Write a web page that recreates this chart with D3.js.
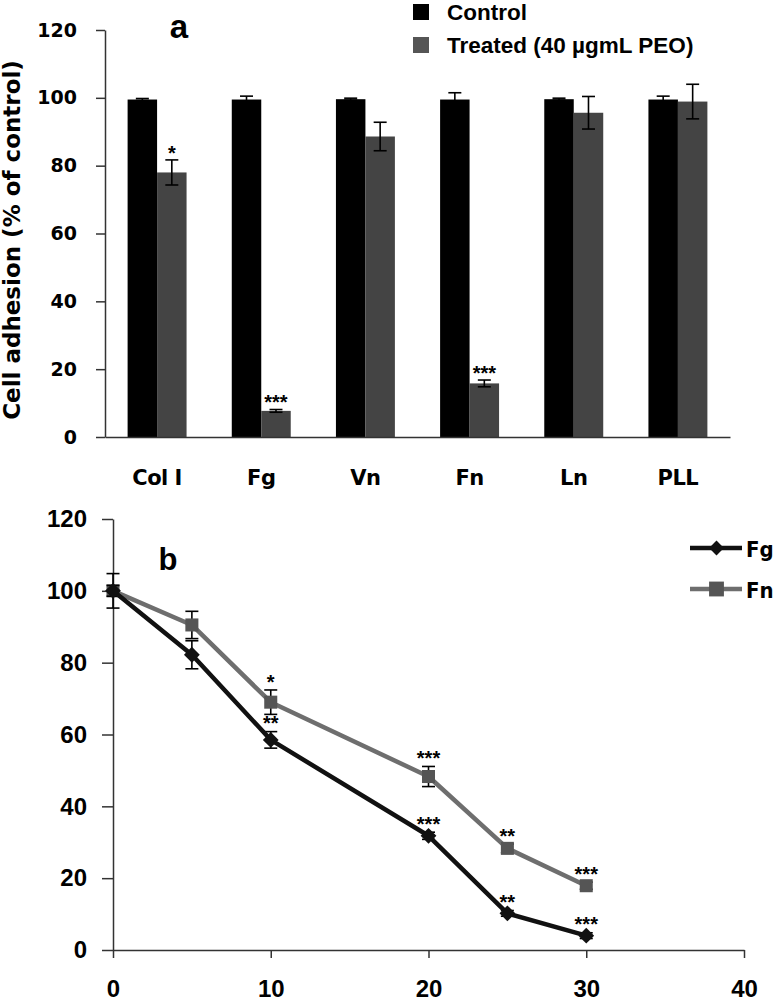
<!DOCTYPE html>
<html>
<head>
<meta charset="utf-8">
<script src="https://cdn.jsdelivr.net/npm/d3@7"></script>
<style>
  html, body { margin: 0; padding: 0; background: #fff; }
  svg { display: block; }
</style>
</head>
<body>
<svg id="chart" width="777" height="1001"></svg>
<script>
// ---------- Panel a data ----------
const categories = ["Col I", "Fg", "Vn", "Fn", "Ln", "PLL"];
const seriesNames = ["Control", "Treated (40 µgmL PEO)"];
const controlValues = [99.5, 99.5, 99.6, 99.5, 99.6, 99.5];
const controlErrors = [0.3, 1.0, 0.3, 2.0, 0.3, 1.0];
const treatedValues = [78.0, 7.7, 88.6, 15.8, 95.6, 98.9];
const treatedErrors = [3.7, 0.4, 4.2, 1.0, 4.8, 5.1];
const treatedStars = ["*", "***", "", "***", "", ""];
const yTicksA = [0, 20, 40, 60, 80, 100, 120];

// ---------- Panel b data ----------
const timePoints = [0, 5, 10, 20, 25, 30];
const fgValues = [100, 82.2, 58.5, 31.8, 10.2, 4.0];
const fgErrors = [1.5, 3.9, 2.3, 1.0, 0.8, 0.8];
const fgStars = ["", "", "**", "***", "**", "***"];
const fnValues = [100, 90.5, 69.0, 48.3, 28.3, 17.9];
const fnErrors = [4.8, 3.8, 3.4, 2.8, 1.2, 1.0];
const fnStars = ["", "", "*", "***", "**", "***"];
const xTicksB = [0, 10, 20, 30, 40];
const yTicksB = [0, 20, 40, 60, 80, 100, 120];

const svg = d3.select("#chart");
const AXIS = "#333";
const GRAY_BAR = "#444";
const FN_LINE = "#6e6e6e";
const FN_MARK = "#555";
const starFont = "'Liberation Sans', Arial, sans-serif";
const dejavu = "'DejaVu Sans', Verdana, sans-serif";
const dejavuCond = "'DejaVu Sans Condensed', 'DejaVu Sans', Verdana, sans-serif";
const arial = "'Liberation Sans', Arial, sans-serif";

// =========== PANEL A ===========
const ya = d3.scaleLinear().domain([0, 120]).range([437, 30]);
const xa = d3.scaleBand().domain(categories).range([105, 730])
  .paddingInner(0.434).paddingOuter(0.217);
const xs = d3.scaleBand().domain([0, 1]).range([0, xa.bandwidth()]);

const gA = svg.append("g");

const rows = categories.map((c, i) => ({
  cat: c,
  vals: [
    { s: 0, v: controlValues[i], e: controlErrors[i], star: "" },
    { s: 1, v: treatedValues[i], e: treatedErrors[i], star: treatedStars[i] }
  ]
}));

const grp = gA.selectAll("g.grp").data(rows).join("g")
  .attr("transform", d => `translate(${xa(d.cat)},0)`);

grp.selectAll("rect").data(d => d.vals).join("rect")
  .attr("x", d => xs(d.s))
  .attr("width", xs.bandwidth())
  .attr("y", d => ya(d.v))
  .attr("height", d => ya(0) - ya(d.v))
  .attr("fill", d => d.s === 0 ? "#000" : GRAY_BAR);

const capW = 13;
grp.selectAll("g.err").data(d => d.vals).join("g").each(function(d) {
  const g = d3.select(this);
  const cx = xs(d.s) + xs.bandwidth() / 2;
  const y1 = ya(d.v + d.e), y2 = ya(d.v - d.e);
  g.append("line").attr("x1", cx).attr("x2", cx).attr("y1", y1).attr("y2", y2)
    .attr("stroke", "#000").attr("stroke-width", 1.6);
  [y1, y2].forEach(y => g.append("line").attr("x1", cx - capW / 2).attr("x2", cx + capW / 2)
    .attr("y1", y).attr("y2", y).attr("stroke", "#000").attr("stroke-width", 1.6));
  if (d.star) {
    g.append("text").attr("x", cx).attr("y", y1 - 12 + 11.6)
      .attr("text-anchor", "middle")
      .style("font-family", starFont).style("font-weight", "bold").style("font-size", "20px")
      .text(d.star);
  }
});

const yAxisA = d3.axisLeft(ya).tickValues(yTicksA).tickSize(9).tickPadding(19).tickSizeOuter(0);
const gyA = gA.append("g").attr("transform", "translate(105,0)").call(yAxisA);
gyA.select(".domain").attr("stroke", AXIS).attr("stroke-width", 1.5);
gyA.selectAll(".tick line").attr("stroke", AXIS).attr("stroke-width", 1.5);
gyA.selectAll(".tick text").attr("fill", "#000")
  .style("font-family", dejavu).style("font-weight", "bold").style("font-size", "19px");

const xAxisA = d3.axisBottom(xa).tickSize(0).tickPadding(33).tickSizeOuter(0);
const gxA = gA.append("g").attr("transform", `translate(0,${ya(0)})`).call(xAxisA);
gxA.select(".domain").attr("stroke", AXIS).attr("stroke-width", 1.5);
gxA.selectAll(".tick text").attr("fill", "#000")
  .style("font-family", dejavu).style("font-weight", "bold").style("font-size", "21px")
  .style("letter-spacing", "-0.5px");

gA.append("text")
  .attr("transform", "translate(20,240) rotate(-90)")
  .attr("text-anchor", "middle")
  .style("font-family", dejavu).style("font-weight", "bold").style("font-size", "23px")
  .text("Cell adhesion (% of control)");

gA.append("text").attr("x", 179).attr("y", 38).attr("text-anchor", "middle")
  .style("font-family", arial).style("font-weight", "bold").style("font-size", "33px")
  .text("a");

const legA = gA.append("g");
seriesNames.forEach((name, i) => {
  const cy = [12, 45][i];
  legA.append("rect").attr("x", 413).attr("y", cy - 8).attr("width", 16).attr("height", 16)
    .attr("fill", i === 0 ? "#000" : "#555");
  legA.append("text").attr("x", 447).attr("y", cy + 8)
    .style("font-family", arial).style("font-weight", "bold").style("font-size", "22.5px")
    .text(name);
});

// =========== PANEL B ===========
const xb = d3.scaleLinear().domain([0, 40]).range([113, 744]);
const yb = d3.scaleLinear().domain([0, 120]).range([950, 519]);
const gB = svg.append("g");

const xAxisB = d3.axisBottom(xb).tickValues(xTicksB).tickSize(8).tickPadding(22).tickSizeOuter(0);
const gxB = gB.append("g").attr("transform", `translate(0,${yb(0)})`).call(xAxisB);
gxB.select(".domain").attr("stroke", AXIS).attr("stroke-width", 1.5);
gxB.selectAll(".tick line").attr("stroke", AXIS).attr("stroke-width", 1.5);
gxB.selectAll(".tick text").attr("fill", "#000")
  .style("font-family", arial).style("font-weight", "bold").style("font-size", "24px");

const yAxisB = d3.axisLeft(yb).tickValues(yTicksB).tickSize(11).tickPadding(15).tickSizeOuter(0);
const gyB = gB.append("g").attr("transform", `translate(${xb(0)},0)`).call(yAxisB);
gyB.select(".domain").attr("stroke", AXIS).attr("stroke-width", 1.5);
gyB.selectAll(".tick line").attr("stroke", AXIS).attr("stroke-width", 1.5);
gyB.selectAll(".tick text").attr("fill", "#000")
  .style("font-family", arial).style("font-weight", "bold").style("font-size", "24px");

gB.append("text").attr("x", 168).attr("y", 570).attr("text-anchor", "middle")
  .style("font-family", arial).style("font-weight", "bold").style("font-size", "31px")
  .text("b");

// markers: square for Fn, square rotated 45° (diamond) for Fg
const series = [
  { name: "Fn", vals: fnValues, errs: fnErrors, stars: fnStars, line: FN_LINE, mark: FN_MARK, rot: 0, size: 170 },
  { name: "Fg", vals: fgValues, errs: fgErrors, stars: fgStars, line: "#111", mark: "#111", rot: 45, size: 125 }
];

const lineGen = d3.line().x(d => xb(d.t)).y(d => yb(d.v));

series.forEach(s => {
  const pts = timePoints.map((t, i) => ({ t, v: s.vals[i], e: s.errs[i], star: s.stars[i] }));
  const g = gB.append("g");
  pts.forEach(p => {
    const cx = xb(p.t), y1 = yb(p.v + p.e), y2 = yb(p.v - p.e);
    g.append("line").attr("x1", cx).attr("x2", cx).attr("y1", y1).attr("y2", y2)
      .attr("stroke", "#000").attr("stroke-width", 1.6);
    [y1, y2].forEach(y => g.append("line").attr("x1", cx - 6.5).attr("x2", cx + 6.5)
      .attr("y1", y).attr("y2", y).attr("stroke", "#000").attr("stroke-width", 1.6));
  });
  g.append("path").datum(pts).attr("d", lineGen)
    .attr("fill", "none").attr("stroke", s.line).attr("stroke-width", 4.5)
    .attr("stroke-linejoin", "round");
  g.selectAll("path.m").data(pts).join("path").attr("class", "m")
    .attr("transform", d => `translate(${xb(d.t)},${yb(d.v)}) rotate(${s.rot})`)
    .attr("d", d3.symbol().type(d3.symbolSquare).size(s.size))
    .attr("fill", s.mark);
  pts.filter(p => p.star).forEach(p => {
    g.append("text").attr("x", xb(p.t)).attr("y", yb(p.v + p.e) - 13 + 11.6)
      .attr("text-anchor", "middle")
      .style("font-family", starFont).style("font-weight", "bold").style("font-size", "20px")
      .text(p.star);
  });
});

const legB = [
  { name: "Fg", y: 548, line: "#111", mark: "#111", rot: 45, size: 110 },
  { name: "Fn", y: 589, line: FN_LINE, mark: FN_MARK, rot: 0, size: 220 }
];
legB.forEach(l => {
  gB.append("line").attr("x1", 690).attr("x2", 742).attr("y1", l.y).attr("y2", l.y)
    .attr("stroke", l.line).attr("stroke-width", 4.5);
  gB.append("path").attr("transform", `translate(716.5,${l.y}) rotate(${l.rot})`)
    .attr("d", d3.symbol().type(d3.symbolSquare).size(l.size)).attr("fill", l.mark);
  gB.append("text").attr("x", 746).attr("y", l.y + 9)
    .style("font-family", dejavuCond).style("font-weight", "bold").style("font-size", "22px")
    .text(l.name);
});
</script>
</body>
</html>
